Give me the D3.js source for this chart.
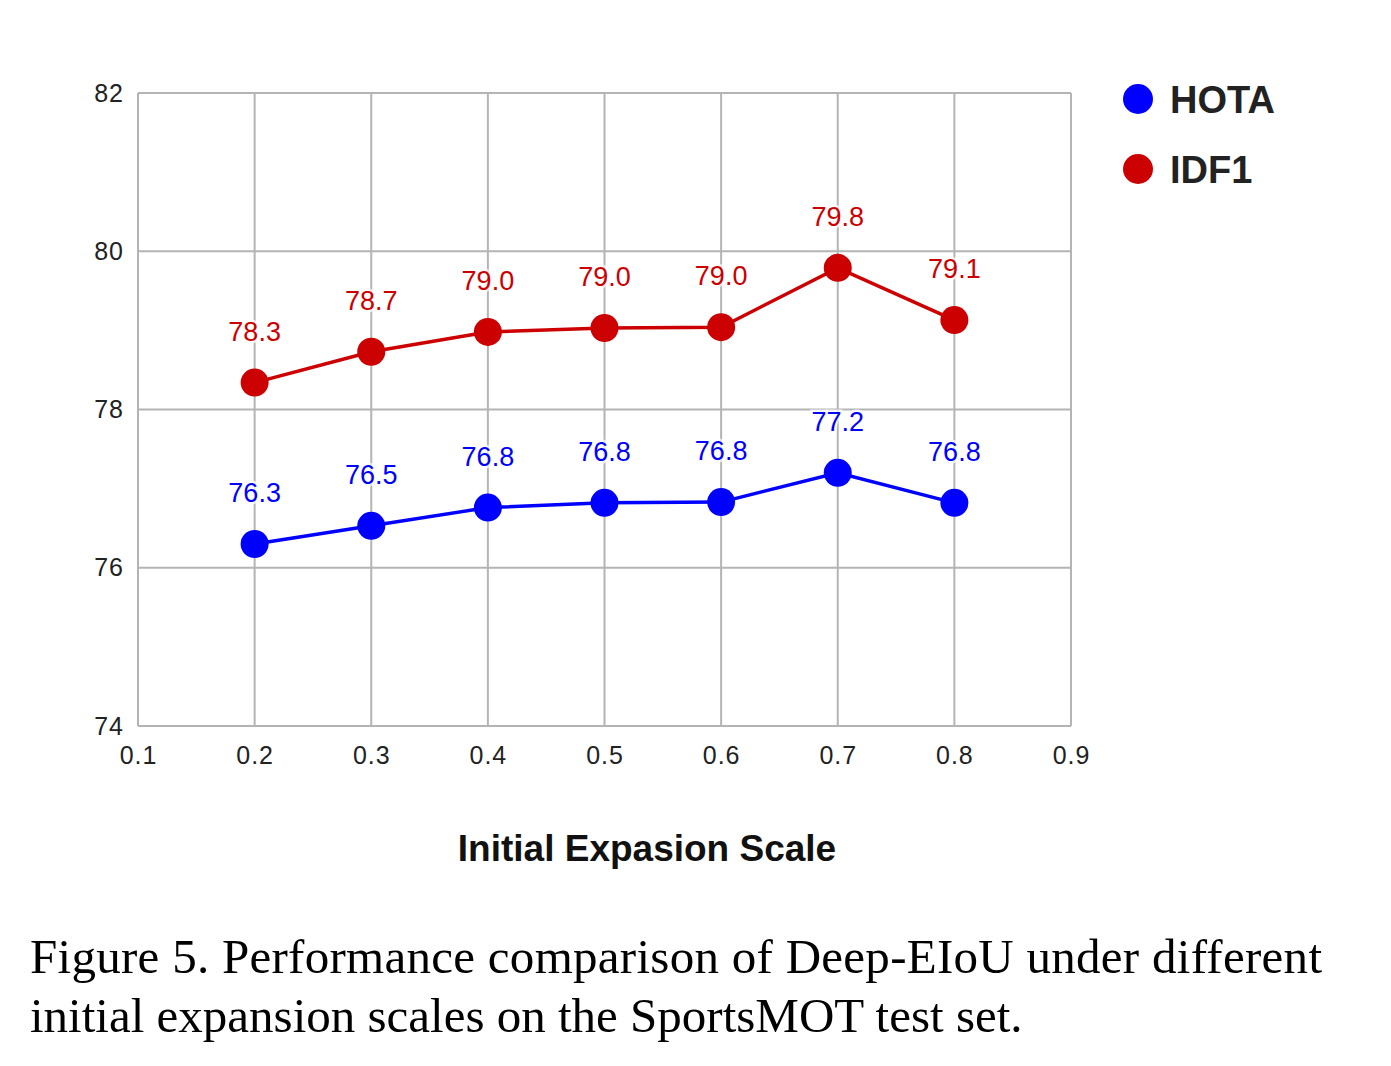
<!DOCTYPE html>
<html><head><meta charset="utf-8">
<script src="https://cdn.jsdelivr.net/npm/d3@7"></script>
<style>body{margin:0;background:#fff}svg{display:block}</style>
</head><body>
<svg id="c" width="1391" height="1066"></svg>
<script>
const scales = [0.2, 0.3, 0.4, 0.5, 0.6, 0.7, 0.8];
const hota = [76.30, 76.53, 76.76, 76.82, 76.83, 77.20, 76.82];
const idf1 = [78.34, 78.73, 78.98, 79.03, 79.04, 79.79, 79.13];
const seriesNames = ["HOTA", "IDF1"];
const seriesColors = ["#0000ff", "#cc0000"];
const xTicks = [0.1, 0.2, 0.3, 0.4, 0.5, 0.6, 0.7, 0.8, 0.9];
const yTicks = [74, 76, 78, 80, 82];
const xTitle = "Initial Expasion Scale";
const captionLines = ["Figure 5. Performance comparison of Deep-EIoU under different",
                      "initial expansion scales on the SportsMOT test set."];

const svg = d3.select("#c");
const x = d3.scaleLinear().domain([0.1, 0.9]).range([138, 1071]);
const y = d3.scaleLinear().domain([74, 82]).range([726, 93]);
const grid = "#b4b4b4";
const sans = "Liberation Sans, Arial, sans-serif";

// grid
svg.append("g").selectAll("line").data(xTicks).join("line")
  .attr("x1", d => x(d)).attr("x2", d => x(d)).attr("y1", y(82)).attr("y2", y(74))
  .attr("stroke", grid).attr("stroke-width", 2);
svg.append("g").selectAll("line").data(yTicks).join("line")
  .attr("x1", x(0.1)).attr("x2", x(0.9)).attr("y1", d => y(d)).attr("y2", d => y(d))
  .attr("stroke", grid).attr("stroke-width", 2);

// axes labels via d3 axes
const xAxis = svg.append("g").attr("transform", `translate(0,${y(74)})`)
  .call(d3.axisBottom(x).tickValues(xTicks).tickFormat(d3.format(".1f")).tickSize(0).tickPadding(20));
const yAxis = svg.append("g").attr("transform", `translate(${x(0.1)},0)`)
  .call(d3.axisLeft(y).tickValues(yTicks).tickSize(0).tickPadding(14));
[xAxis, yAxis].forEach(a => {
  a.select(".domain").remove();
  a.selectAll("text").attr("font-family", sans)
    .attr("font-size", 25).attr("fill", "#222").attr("letter-spacing", 1);
});

const series = [hota, idf1];
series.forEach((vals, si) => {
  const col = seriesColors[si];
  const pts = scales.map((s, i) => [s, vals[i]]);
  svg.append("path").datum(pts)
    .attr("d", d3.line().x(d => x(d[0])).y(d => y(d[1])))
    .attr("fill", "none").attr("stroke", col).attr("stroke-width", 3.5);
  svg.append("g").selectAll("circle").data(pts).join("circle")
    .attr("cx", d => x(d[0])).attr("cy", d => y(d[1])).attr("r", 14).attr("fill", col);
  svg.append("g").selectAll("text").data(pts).join("text")
    .attr("x", d => x(d[0])).attr("y", d => y(d[1]) - 42)
    .attr("text-anchor", "middle")
    .attr("font-family", sans).attr("font-size", 27)
    .attr("fill", col)
    .attr("stroke", "#fff").attr("stroke-opacity", 0.7).attr("stroke-width", 5)
    .attr("paint-order", "stroke")
    .text(d => d3.format(".1f")(d[1]));
});

// legend
const leg = svg.append("g").selectAll("g").data(seriesNames).join("g")
  .attr("transform", (d, i) => `translate(1138,${99 + i * 70})`);
leg.append("circle").attr("r", 15).attr("fill", (d, i) => seriesColors[i]);
leg.append("text").attr("x", 32).attr("y", 14)
  .attr("font-family", sans).attr("font-size", 38)
  .attr("font-weight", "bold").attr("fill", "#222").text(d => d);

// x title
svg.append("text").attr("x", 647).attr("y", 861).attr("text-anchor", "middle")
  .attr("font-family", sans).attr("font-size", 37)
  .attr("font-weight", "bold").attr("fill", "#111").text(xTitle);

// caption
svg.append("g").selectAll("text").data(captionLines).join("text")
  .attr("x", 30).attr("y", (d, i) => 973 + i * 59)
  .attr("font-family", "Liberation Serif, Times New Roman, serif").attr("font-size", 49)
  .attr("fill", "#000")
  .each(function(d, i) { if (i === 0) d3.select(this).attr("textLength", 1292).attr("lengthAdjust", "spacing"); })
  .text(d => d);
</script>
</body></html>
